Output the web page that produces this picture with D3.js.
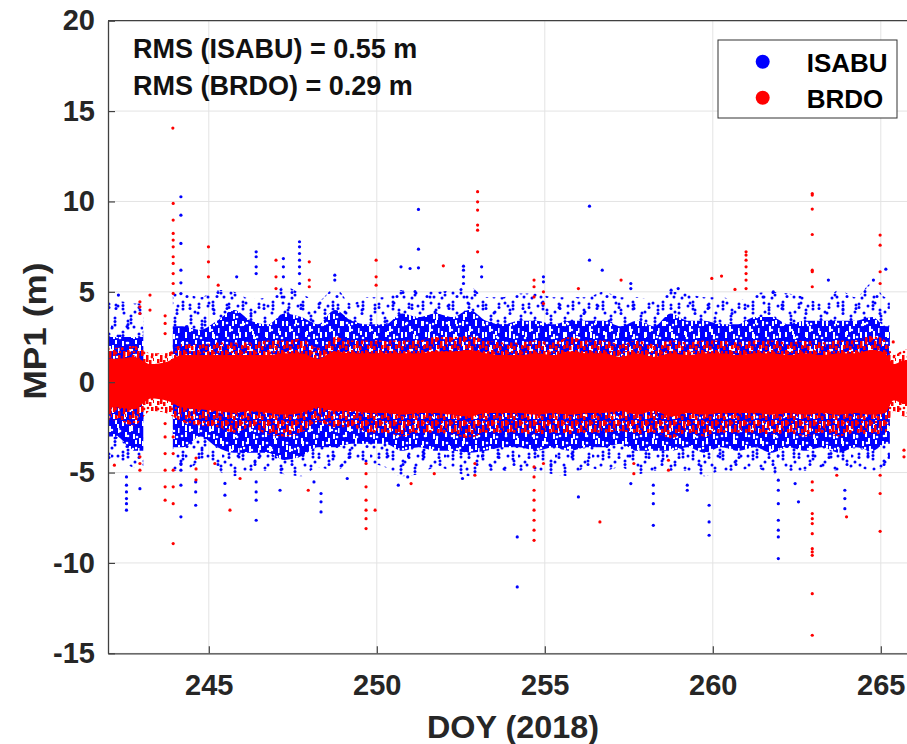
<!DOCTYPE html>
<html><head><meta charset="utf-8">
<script src="https://cdn.jsdelivr.net/npm/d3@7/dist/d3.min.js"></script>
<style>
html,body{margin:0;padding:0;background:#fff;}
svg{display:block;font-family:"Liberation Sans",Arial,Helvetica,sans-serif;}
</style></head><body>
<svg id="chart" width="907" height="744"></svg>
<script>
// ---------------- data ----------------
const xTicks = [245, 250, 255, 260, 265];
const yTicks = [-15, -10, -5, 0, 5, 10, 15, 20];
const seriesNames = ["ISABU", "BRDO"];
const rmsLabels = ["RMS (ISABU) = 0.55 m", "RMS (BRDO) = 0.29 m"];

// time bins (DOY edges) used to describe the dense point clouds
const binEdges = [242, 242.5, 243.05, 243.5, 243.93, 244.5, 245, 245.5, 246, 246.5, 247, 247.5, 248, 248.5,
  249, 249.5, 250, 250.5, 251, 251.5, 252, 252.5, 253, 253.5, 254, 254.5, 255, 255.5, 256, 256.5, 257, 257.5,
  258, 258.5, 259, 259.5, 260, 260.5, 261, 261.5, 262, 262.5, 263, 263.5, 264, 264.5, 265, 265.27, 265.5, 265.9];

// ISABU cloud envelope per bin (m)
const isabuOuterHi = [4.5, 4.35, null, null, 4.9, 4.7, 5.1, 5.0, 4.6, 4.7, 5.3, 4.9, 4.5, 5.2, 4.35, 4.7, 4.7, 5.1, 5.1, 5.0,
  5.1, 5.3, 4.7, 4.7, 4.9, 4.9, 4.7, 4.7, 4.7, 5.0, 4.7, 4.7, 4.5, 5.0, 4.9, 4.7, 4.7, 4.5, 4.9, 5.0, 4.9, 4.7, 4.35,
  5.1, 4.7, 5.5, 4.7, null, null];
const isabuDenseHi = [2.5, 2.5, null, null, 3.1, 2.9, 3.4, 4.0, 3.4, 3.2, 3.8, 3.6, 3.2, 4.0, 3.4, 3.2, 3.2, 3.8, 3.6, 3.8,
  3.6, 4.0, 3.4, 3.2, 3.4, 3.4, 3.2, 3.4, 3.4, 3.4, 3.1, 3.4, 3.1, 3.8, 3.4, 3.4, 3.2, 3.2, 3.6, 3.6, 3.2, 3.4, 3.4,
  3.4, 3.4, 3.6, 3.1, null, null];
const isabuDenseLo = [-3.0, -3.8, null, null, -3.6, -3.0, -3.6, -3.9, -3.9, -3.9, -4.3, -4.1, -3.6, -3.6, -3.4, -3.4, -3.4,
  -3.8, -3.6, -3.8, -3.8, -3.9, -3.8, -3.6, -3.6, -3.8, -3.6, -3.8, -3.6, -3.6, -3.4, -3.8, -3.8, -3.8, -3.6, -3.9, -3.6,
  -3.8, -3.6, -3.9, -3.6, -3.8, -3.6, -3.9, -3.6, -3.8, -3.4, null, null];
const isabuOuterLo = [-4.3, -4.7, null, null, -4.9, -4.5, -4.9, -5.2, -4.9, -4.9, -5.1, -5.2, -4.7, -4.9, -4.5, -4.5, -4.7,
  -5.2, -5.1, -4.7, -4.9, -5.2, -4.9, -4.9, -4.9, -4.9, -5.1, -5.2, -4.7, -4.9, -4.7, -5.1, -4.9, -4.9, -4.9, -5.2, -4.9,
  -4.9, -4.7, -5.1, -4.9, -4.9, -4.7, -4.9, -4.7, -4.9, -4.7, null, null];

// BRDO cloud envelope per bin (m)
const brdoHi = [1.9, 2.0, 1.6, 1.6, 2.1, 2.1, 2.2, 2.2, 2.2, 2.3, 2.3, 2.4, 1.9, 2.5, 2.3, 2.3, 2.3, 2.3, 2.3, 2.5, 2.5, 2.6,
  2.3, 2.2, 2.2, 2.3, 2.2, 2.5, 2.3, 2.3, 2.1, 2.3, 2.1, 2.3, 2.2, 2.3, 2.3, 2.2, 2.3, 2.3, 2.2, 2.3, 2.2, 2.3, 2.3, 2.6,
  2.3, 1.5, 1.8];
const brdoCoreHi = [1.3, 1.4, 1.0, 1.1, 1.5, 1.5, 1.5, 1.5, 1.5, 1.5, 1.6, 1.6, 1.3, 1.7, 1.6, 1.6, 1.6, 1.6, 1.6, 1.7, 1.7,
  1.8, 1.6, 1.5, 1.5, 1.6, 1.5, 1.7, 1.6, 1.6, 1.4, 1.6, 1.4, 1.6, 1.5, 1.6, 1.6, 1.5, 1.6, 1.6, 1.5, 1.6, 1.5, 1.6, 1.6,
  1.8, 1.6, 1.0, 1.2];
const brdoCoreLo = [-1.4, -1.5, -0.9, -1.0, -1.4, -1.5, -1.6, -1.7, -1.6, -1.7, -1.8, -1.7, -1.4, -1.6, -1.6, -1.7, -1.7,
  -1.8, -1.7, -1.7, -1.8, -1.9, -1.7, -1.7, -1.7, -1.8, -1.7, -1.8, -1.7, -1.7, -1.6, -1.8, -1.6, -1.9, -1.7, -1.8, -1.7,
  -1.7, -1.7, -1.8, -1.7, -1.8, -1.7, -1.8, -1.7, -1.8, -1.7, -1.0, -1.2];
const brdoLo = [-2.1, -2.4, -1.6, -1.7, -2.2, -2.4, -2.5, -2.8, -2.5, -2.9, -3.0, -2.8, -2.2, -2.5, -2.5, -2.8, -2.8, -3.0,
  -2.8, -2.8, -2.9, -3.1, -2.8, -2.8, -2.8, -2.9, -2.8, -2.9, -2.8, -2.8, -2.7, -2.9, -2.8, -3.1, -2.8, -3.0, -2.8, -2.8,
  -2.8, -2.9, -2.8, -3.0, -2.8, -3.0, -2.8, -2.9, -2.8, -1.6, -1.9];

// individual outlying points [DOY, MP1]
const isabuOutliers = [
  [242.31,4.82],[242.55,-5.24],[242.55,-5.70],[242.55,-6.07],[242.55,-6.44],[242.55,-6.72],[242.55,-7.08],[242.95,-5.89],
  [244.17,10.26],[244.17,9.24],[244.17,7.68],[244.17,6.20],[244.17,5.5],[244.17,4.9],[244.17,-4.5],[244.17,-4.87],[244.17,-5.70],[244.17,-7.45],
  [244.61,-5.52],[244.61,-6.07],[244.61,-6.81],[245.48,-5.6],[245.48,-6.25],[245.83,5.83],
  [246.41,7.21],[246.41,6.94],[246.41,6.38],[246.41,6.01],[246.41,-5.52],[246.41,-6.07],[246.41,-6.53],[246.41,-7.64],
  [247.12,-5.98],[247.22,6.84],[247.22,6.38],[247.22,5.83],
  [247.70,7.77],[247.70,7.49],[247.70,7.12],[247.70,6.75],[247.70,6.38],[247.70,6.01],[247.70,5.46],
  [248.13,-5.52],[248.34,-6.16],[248.34,-6.62],[248.34,-7.18],[248.75,5.92],[248.75,5.65],[249.12,-5.33],
  [250.64,-5.70],[250.72,6.38],[250.92,-5.24],[250.99,6.29],[251.24,9.56],[251.24,7.36],[251.24,6.33],
  [252.55,-5.33],[252.58,6.42],[252.58,6.2],[252.58,5.83],[252.58,5.46],[253.12,6.38],[253.12,5.83],
  [254.18,-8.56],[254.18,-11.33],[254.96,5.83],[254.96,5.55],[256.0,-6.35],[256.33,9.74],[256.33,6.75],[256.71,6.2],
  [257.56,5.46],[257.56,5.18],[257.56,-5.61],[258.23,-5.70],[258.23,-6.16],[258.23,-6.72],[258.23,-7.92],
  [258.76,5.09],[258.97,5.18],[259.24,-5.70],[259.24,-5.98],[259.89,-6.81],[259.89,-7.73],[259.89,-8.47],[261.80,5.0],
  [261.95,-5.42],[261.95,-5.98],[261.95,-6.72],[261.95,-7.64],[261.95,-8.19],[261.95,-8.56],[261.95,-9.76],
  [262.45,-5.61],[262.55,-6.62],[263.44,5.65],[263.93,-5.98],[263.93,-6.44],[263.93,-7.0],[264.78,5.65],[265.15,6.25]
];
const brdoOutliers = [
  [242.19,-4.59],[242.95,4.45],[242.95,4.17],[242.95,3.80],[242.95,-4.13],[242.95,-4.5],[242.95,-4.87],
  [243.25,4.82],[243.25,3.99],
  [243.70,3.67],[243.70,3.25],[243.70,2.69],[243.70,-2.29],[243.70,-3.03],[243.70,-3.95],[243.70,-4.87],[243.70,-5.79],[243.70,-6.53],
  [243.93,14.06],
  [243.94,9.89],[243.94,8.97],[243.94,8.23],[243.94,7.86],[243.94,7.49],[243.94,6.94],[243.94,6.57],[243.94,6.01],[243.94,5.46],[243.94,4.91],
  [243.94,-3.03],[243.94,-3.95],[243.94,-4.87],[243.94,-5.79],[243.94,-6.72],[243.94,-8.93],
  [244.62,-4.2],[244.62,-4.8],[244.62,-5.4],[244.99,7.49],[244.99,6.66],[244.99,5.83],[245.18,-4.5],[245.28,5.37],
  [245.63,-7.08],[245.93,-5.33],[247.0,6.75],[247.0,5.83],[247.0,5.18],[247.96,-5.98],[247.99,6.66],[247.99,5.65],[247.99,5.28],
  [249.68,-4.5],[249.68,-5.06],[249.68,-5.79],[249.68,-6.53],[249.68,-7.08],[249.68,-7.55],[249.68,-8.10],[249.95,-7.08],
  [249.98,6.75],[249.98,5.83],[249.98,5.37],[251.02,-5.61],[251.71,-5.06],[251.98,6.44],[252.92,-4.5],[252.92,-5.15],
  [253.0,10.54],[253.0,9.98],[253.0,9.52],[253.0,8.69],[253.0,8.41],[253.0,7.21],
  [254.68,5.65],[254.68,5.28],[254.68,4.72],[254.68,-4.69],[254.68,-5.24],[254.68,-5.98],[254.68,-6.53],[254.68,-7.08],
  [254.68,-7.64],[254.68,-8.19],[254.68,-8.75],[254.96,5.0],[254.96,4.35],[254.96,-4.5],[256.0,5.18],[256.64,-7.73],
  [257.27,5.65],[257.65,-4.5],[257.65,-5.06],[258.68,-4.32],[258.68,-4.87],[259.97,5.74],[260.26,5.87],[260.66,5.13],
  [260.99,7.21],[260.99,7.03],[260.99,6.75],[260.99,6.38],[260.99,6.01],[260.99,5.65],[260.99,5.18],
  [262.96,10.44],[262.96,10.35],[262.96,9.58],[262.96,8.17],[262.96,6.2],[262.96,6.11],[262.96,5.28],
  [262.96,-5.52],[262.96,-5.98],[262.96,-7.27],[262.96,-7.55],[262.96,-7.82],[262.96,-8.38],[262.96,-9.21],
  [262.96,-9.39],[262.96,-9.58],[262.96,-11.7],[262.96,-14.0],
  [263.69,-5.15],[263.98,-7.45],[264.98,8.14],[264.98,7.58],[264.98,6.11],[264.98,5.46],[264.98,-5.15],[264.98,-6.16],
  [264.98,-8.25],[265.37,2.23],[265.69,-3.76],[265.69,-4.13]
];

// ---------------- layout / style ----------------
const W = 907, H = 744;
const L = 108, T = 20.7, B = 653.3;
const BLUE = "#0000ff", RED = "#ff0000";
const svg = d3.select("#chart");
const x = d3.scaleLinear().domain([242, 266]).range([L, L + 33.6 * 24]);
const y = d3.scaleLinear().domain([-15, 20]).range([B, T]);

const defs = svg.append("defs");
defs.append("clipPath").attr("id", "plotClip").append("rect")
  .attr("x", L).attr("y", T).attr("width", W - L).attr("height", B - T);

// texture tiles (style only): dots in short vertical chains, like satellite arcs
function pattern(id, w, h, bg, col, shapes) {
  const p = defs.append("pattern").attr("id", id).attr("patternUnits", "userSpaceOnUse")
    .attr("width", w).attr("height", h);
  if (bg) p.append("rect").attr("width", w).attr("height", h).attr("fill", bg);
  shapes.forEach(s => {
    if (s.length === 3) p.append("circle").attr("cx", s[0]).attr("cy", s[1]).attr("r", s[2]).attr("fill", col);
    else p.append("rect").attr("x", s[0]).attr("y", s[1]).attr("width", s[2]).attr("height", s[3]).attr("fill", col);
  });
}
pattern("blueSparseA", 30, 30, null, BLUE, [
  [3,2,1.5],[3,5.5,1.5],[3,9,1.5],[11,16,1.5],[11,19.5,1.5],[11,23,1.5],
  [19,4,1.5],[19,7.5,1.5],[25,18,1.5],[25,21.5,1.5],[25,25,1.5],
  [7,26.5,1.5],[15,12,1.5],[28,6,1.5],[22,28,1.5],[14,27,1.5]]);
pattern("blueSparseB", 37, 43, null, BLUE, [
  [5,4,1.5],[5,7.5,1.5],[17,20,1.5],[17,23.5,1.5],[17,27,1.5],[29,9,1.5],[29,12.5,1.5],
  [33,31,1.5],[33,34.5,1.5],[9,35,1.5],[23,39,1.5],[13,12,1.5],[1,26,1.5],[24,2,1.5]]);
pattern("blueDense", 20, 20, BLUE, "#ffffff", [
  [2,1,2,5],[9,6,2,6],[15,0,2,4],[5,12,2,5],[13,14,2,5],[18,8,1.5,5],
  [7,3,1.3],[12,10,1.2],[17,17,1.3]]);
pattern("blueHoles", 27, 31, null, "#ffffff", [
  [4,4,2,6],[16,11,2,5],[23,22,2,6],[9,21,2,4],[1,14,1.3],[20,2,1.3],[12,28,1.3],[25,15,1.2]]);
pattern("redFringe", 14, 14, null, RED, [
  [1,0,2.5,6],[6,5,2.5,7],[11,1,2.5,5],[3,9,2.5,4],[9,10,2.5,4],[13,8,1,3],
  [4,3,1.4],[12,7,1.4],[8,2,1.3]]);

// grid
const grid = svg.append("g");
grid.selectAll("line.gx").data(xTicks).join("line")
  .attr("x1", d => x(d)).attr("x2", d => x(d)).attr("y1", T).attr("y2", B)
  .attr("stroke", "#e3e3e3").attr("stroke-width", 1);
grid.selectAll("line.gy").data(yTicks).join("line")
  .attr("x1", L).attr("x2", W).attr("y1", d => y(d)).attr("y2", d => y(d))
  .attr("stroke", "#e3e3e3").attr("stroke-width", 1);

// bins -> contiguous runs -> smooth area bands
const bins = binEdges.slice(0, -1).map((e, i) => ({
  x0: e, x1: binEdges[i + 1],
  bOH: isabuOuterHi[i], bDH: isabuDenseHi[i], bDL: isabuDenseLo[i], bOL: isabuOuterLo[i],
  rH: brdoHi[i], rCH: brdoCoreHi[i], rCL: brdoCoreLo[i], rL: brdoLo[i]
}));
function runs(hiK, loK) {
  const out = []; let cur = null;
  bins.forEach(b => {
    if (b[hiK] == null) { cur = null; return; }
    if (!cur) { cur = []; out.push(cur); cur.push({ t: b.x0, hi: b[hiK], lo: b[loK] }); }
    cur.push({ t: (b.x0 + b.x1) / 2, hi: b[hiK], lo: b[loK], end: b.x1 });
  });
  out.forEach(r => { const l = r[r.length - 1]; r.push({ t: l.end, hi: l.hi, lo: l.lo }); });
  return out;
}
const area = d3.area().x(d => x(d.t)).y0(d => y(d.lo)).y1(d => y(d.hi)).curve(d3.curveMonotoneX);
const plot = svg.append("g").attr("clip-path", "url(#plotClip)");
function band(hiK, loK, fill) {
  plot.append("g").selectAll("path").data(runs(hiK, loK)).join("path").attr("d", area).attr("fill", fill);
}
band("bOH", "bOL", "url(#blueSparseA)");
band("bOH", "bOL", "url(#blueSparseB)");
band("bDH", "bDL", "url(#blueDense)");
band("bDH", "bDL", "url(#blueHoles)");
plot.append("g").selectAll("circle").data(isabuOutliers).join("circle")
  .attr("cx", d => x(d[0])).attr("cy", d => y(d[1])).attr("r", 1.6).attr("fill", BLUE);
band("rH", "rL", "url(#redFringe)");
band("rCH", "rCL", RED);
plot.append("g").selectAll("circle").data(brdoOutliers).join("circle")
  .attr("cx", d => x(d[0])).attr("cy", d => y(d[1])).attr("r", 1.6).attr("fill", RED);

// axes
const axColor = "#404040";
const gx = svg.append("g").attr("transform", `translate(0,${B})`)
  .call(d3.axisBottom(x).tickValues(xTicks).tickFormat(d => d).tickSizeInner(-7).tickSizeOuter(0).tickPadding(21));
const gy = svg.append("g").attr("transform", `translate(${L},0)`)
  .call(d3.axisLeft(y).tickValues(yTicks).tickFormat(d => d).tickSizeInner(-7).tickSizeOuter(0).tickPadding(13));
[gx, gy].forEach(g => {
  g.select(".domain").attr("stroke", axColor).attr("stroke-width", 1.3);
  g.selectAll(".tick line").attr("stroke", axColor).attr("stroke-width", 1.2);
  g.selectAll(".tick text").attr("font-size", 29).attr("font-weight", "bold")
    .attr("fill", "#262626").attr("font-family", '"Liberation Sans", Arial, sans-serif');
});
svg.append("line").attr("x1", L).attr("x2", W).attr("y1", T).attr("y2", T)
  .attr("stroke", axColor).attr("stroke-width", 1.3);

// axis titles
svg.append("text").attr("x", 513).attr("y", 738).attr("text-anchor", "middle")
  .attr("font-size", 31).attr("font-weight", "bold").attr("fill", "#262626")
  .attr("textLength", 172).attr("lengthAdjust", "spacingAndGlyphs").text("DOY (2018)");
svg.append("text").attr("transform", "translate(46,331) rotate(-90)").attr("text-anchor", "middle")
  .attr("font-size", 31).attr("font-weight", "bold").attr("fill", "#262626")
  .attr("textLength", 137).attr("lengthAdjust", "spacingAndGlyphs").text("MP1 (m)");

// RMS annotation
svg.selectAll("text.rms").data(rmsLabels).join("text").attr("class", "rms")
  .attr("x", 133).attr("y", (d, i) => 58 + i * 37)
  .attr("font-size", 27).attr("font-weight", "bold").attr("fill", "#111").text(d => d);

// legend
const lg = svg.append("g");
lg.append("rect").attr("x", 718).attr("y", 40).attr("width", 179).attr("height", 78)
  .attr("fill", "#fff").attr("stroke", "#333").attr("stroke-width", 1);
const legColors = [BLUE, RED];
lg.selectAll("circle").data(seriesNames).join("circle")
  .attr("cx", 762.7).attr("cy", (d, i) => 61.7 + i * 36).attr("r", 7).attr("fill", (d, i) => legColors[i]);
lg.selectAll("text").data(seriesNames).join("text")
  .attr("x", 806.7).attr("y", (d, i) => 71.5 + i * 36)
  .attr("font-size", 26).attr("font-weight", "bold").attr("fill", "#000").text(d => d);
</script></body></html>
